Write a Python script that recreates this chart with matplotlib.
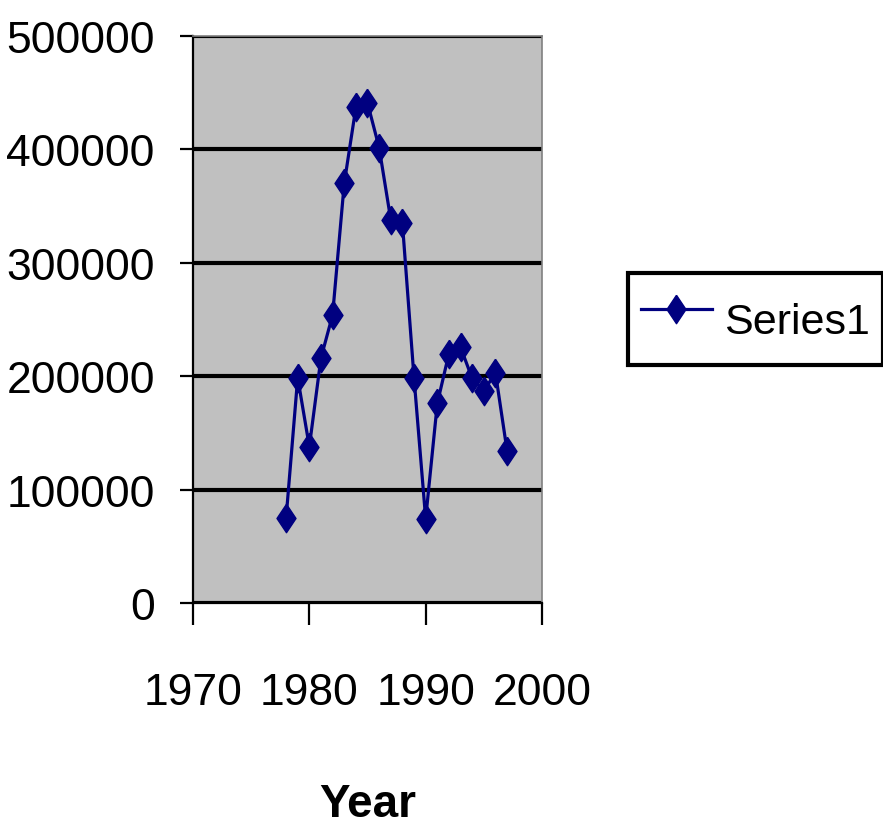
import matplotlib
matplotlib.use("Agg")
import matplotlib.pyplot as plt

# data
years = [1978, 1979, 1980, 1981, 1982, 1983, 1984, 1985, 1986, 1987,
         1988, 1989, 1990, 1991, 1992, 1993, 1994, 1995, 1996, 1997]
values = [74700, 198700, 137800, 216000, 254000, 370000, 437000, 441000,
          401500, 338000, 335000, 198500, 74300, 176000, 220000, 225500,
          198000, 187000, 203000, 134000]
x_ticks = [1970, 1980, 1990, 2000]
y_ticks = [0, 100000, 200000, 300000, 400000, 500000]
series_name = "Series1"

navy = "#000080"
plt.rcParams['font.family'] = ['Liberation Sans', 'DejaVu Sans']

fig = plt.figure(figsize=(8.83, 8.29), dpi=100)
ax = fig.add_axes([193 / 883, 1 - 604 / 829, (542 - 193) / 883, (604 - 37) / 829])
ax.set_facecolor("#C0C0C0")

diamond = [(0, 1.5), (1, 0), (0, -1.5), (-1, 0), (0, 1.5)]
ax.plot(years, values, '-', color=navy, linewidth=2.3,
        marker=diamond, markersize=20.5, markerfacecolor=navy,
        markeredgecolor=navy, label=series_name)

ax.set_xlim(1970, 2000)
ax.set_ylim(0, 500000)
ax.set_xticks(x_ticks)
ax.set_yticks(y_ticks)
ax.set_yticklabels([str(v) for v in y_ticks])
ax.grid(True, axis='y', color='black', linewidth=3)
ax.set_axisbelow(True)

for side in ['top', 'right']:
    ax.spines[side].set_color('#808080')
    ax.spines[side].set_linewidth(1.2)
for side in ['left', 'bottom']:
    ax.spines[side].set_color('black')
    ax.spines[side].set_linewidth(1.6)

ax.tick_params(axis='y', direction='out', length=9.5, width=1.6,
               labelsize=32, pad=18)
ax.tick_params(axis='x', direction='out', length=16, width=1.6,
               labelsize=32, pad=34)

ax.set_xlabel('Year', fontsize=33, fontweight='bold')
ax.xaxis.set_label_coords(0.5, -0.316)

leg = fig.legend(loc='center left', bbox_to_anchor=(628 / 883, 1 - 320 / 829),
                 fontsize=31, handlelength=1.65, handletextpad=0.28,
                 handleheight=2.0, borderpad=0.3, borderaxespad=0,
                 fancybox=False, frameon=True, edgecolor='black',
                 framealpha=1)
leg.get_frame().set_linewidth(3)

fig.savefig("out.png", dpi=100)
